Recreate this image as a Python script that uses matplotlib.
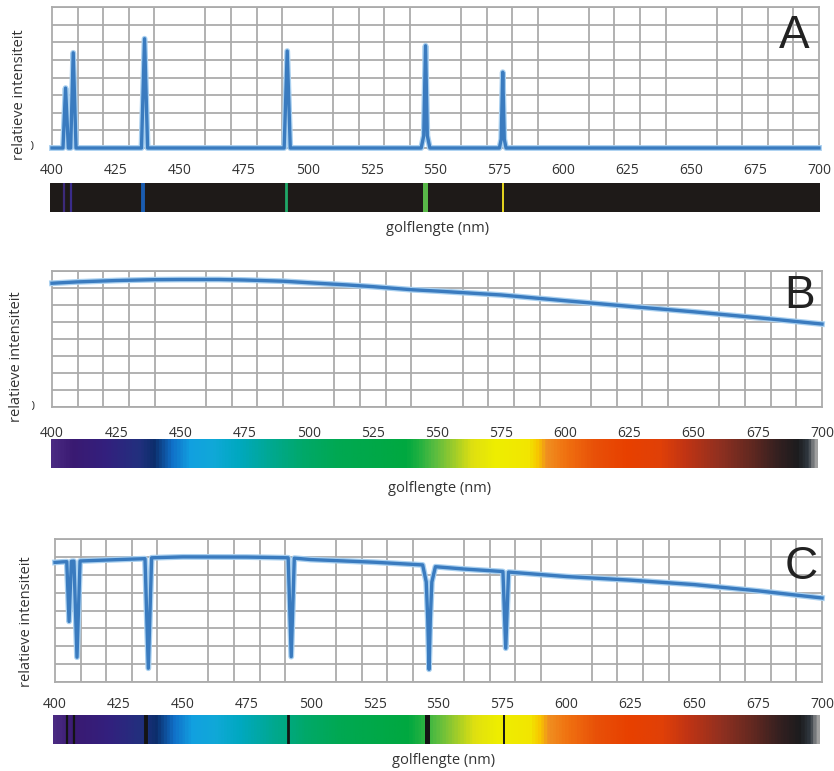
import numpy as np
import matplotlib
matplotlib.use("Agg")
from matplotlib import pyplot as plt
from matplotlib.colors import LinearSegmentedColormap
from matplotlib.transforms import Bbox

# ---- data (wavelength in nm, intensity in grid units 0..8) ----

# A: mercury emission spectrum
a_wl = [400, 404.3, 405.3, 406.4, 407.3, 408.3, 409.4, 435.0, 436.2, 437.4,
        490.8, 492.0, 493.2, 544.4, 545.4, 546.1, 546.8, 547.8,
        575.0, 575.7, 576.3, 576.9, 577.6, 700]
a_int = [0, 0, 3.4, 0, 0, 5.4, 0, 0, 6.2, 0,
         0, 5.5, 0, 0, 0.7, 5.8, 0.7, 0,
         0, 0.5, 4.3, 0.5, 0, 0]

# B: continuous spectrum
b_wl = [400, 410, 425, 440, 450, 465, 475, 490, 500, 515, 525, 540,
        550, 575, 600, 625, 650, 675, 700]
b_int = [7.28, 7.36, 7.44, 7.49, 7.5, 7.5, 7.47, 7.4, 7.31, 7.18, 7.08, 6.9,
         6.82, 6.59, 6.25, 5.92, 5.6, 5.25, 4.88]

# C: continuum with absorption lines
c_wl = [400, 403, 404.6, 405.5, 406.4, 407.4, 408.6, 409.8, 425, 435.2, 436.5, 437.8,
        450, 475, 491.2, 492.4, 493.6, 500, 525, 543.8, 545.2, 545.8, 546.3, 546.8,
        547.4, 548.8, 560, 575.2, 576.3, 577.4, 600, 625, 650, 675, 700]
c_int = [6.69, 6.72, 6.73, 3.39, 6.75, 6.76, 1.39, 6.77, 6.85, 6.9, 0.77, 6.95,
         7.0, 6.99, 6.95, 1.42, 6.93, 6.85, 6.7, 6.55, 5.6, 3.5, 0.71, 3.5,
         5.6, 6.45, 6.32, 6.18, 1.89, 6.15, 5.9, 5.7, 5.45, 5.1, 4.7]

# spectral lines shown in the colour bars
line_wl = [405.3, 408.3, 436.2, 492.0, 546.1, 576.3]
emission_colors = ["#3c2a7a", "#3a2c8a", "#1a5cb0", "#20a868", "#58b848", "#e8d820"]
line_widths = [1.6, 1.6, 2.8, 2.0, 3.6, 1.4]

x_ticks = list(range(400, 701, 25))

# colour stops of the visible spectrum strip
spec_wl = [400, 408, 421, 434, 440, 447, 454, 463, 473, 486, 499, 512, 539, 544, 550,
           556, 565, 574, 587, 591, 594, 602, 613, 626, 639, 649, 662, 675, 685, 693,
           697, 700]
spec_col = ["#4a2a82", "#3a1a72", "#33207e", "#22307e", "#0c2e6c", "#1070c8", "#12a0e0",
            "#10a8d8", "#00a8c0", "#00a890", "#00a868", "#00a852", "#00a840", "#20b040",
            "#58bc40", "#90c830", "#e0e010", "#eeee00", "#f2e600", "#f8c400", "#f09020",
            "#f07010", "#e85008", "#e84000", "#e04008", "#c03414", "#903020", "#602820",
            "#342020", "#1c1c1e", "#303840", "#a0a0a0"]

W, H = 834, 771
GRID = "#ababab"
LINE = "#3a7bbf"
HALO = "#a9d0f0"
TXT = "#333333"

spec_cmap = LinearSegmentedColormap.from_list(
    "spectrum", [((w - 400) / 300, c) for w, c in zip(spec_wl, spec_col)])

fig = plt.figure(figsize=(W / 100, H / 100), dpi=100)


def add_px_axes(x0, y0, x1, y1):
    # axes from pixel box (top-left origin)
    return fig.add_axes([x0 / W, 1 - y1 / H, (x1 - x0) / W, (y1 - y0) / H])


def grid_axes(box, wl, inten, pad):
    ax = add_px_axes(*box)
    ax.set_xlim(400, 700)
    ax.set_ylim(0, 8)
    ax.set_xticks(x_ticks)
    ax.set_xticks(np.arange(400, 701, 10), minor=True)
    ax.set_yticks([])
    ax.set_yticks(np.arange(0, 9, 1), minor=True)
    ax.grid(which="minor", color=GRID, lw=1.3)
    ax.tick_params(which="both", length=0)
    ax.tick_params(axis="x", pad=pad, labelsize=10, labelcolor=TXT)
    for lab in ax.get_xticklabels():
        lab.set_family("Open Sans")
    for sp in ax.spines.values():
        sp.set_color(GRID)
        sp.set_linewidth(1.3)
    ax.plot(wl, inten, color=HALO, lw=4.2, clip_on=False, solid_joinstyle="round", zorder=3)
    ax.plot(wl, inten, color=LINE, lw=2.4, clip_on=False, solid_joinstyle="round", zorder=4)
    return ax


def bar_axes(box):
    ax = add_px_axes(*box)
    ax.set_xlim(400, 700)
    ax.set_ylim(0, 1)
    ax.set_axis_off()
    return ax


def side_texts(ylab_xy, xlab_xy, letter, letter_xy, zero_xy=None):
    fig.text(ylab_xy[0] / W, 1 - ylab_xy[1] / H, "relatieve intensiteit", rotation=90,
             ha="center", va="center", fontsize=10.5, color=TXT, family="Open Sans")
    fig.text(xlab_xy[0] / W, 1 - xlab_xy[1] / H, "golflengte (nm)",
             ha="center", va="center", fontsize=10.5, color=TXT, family="Open Sans")
    fig.text(letter_xy[0] / W, 1 - letter_xy[1] / H, letter, ha="center", va="center",
             fontsize=33, color="#222222", family="Liberation Sans")
    if zero_xy is not None:
        # the "0" is half hidden behind the axis label in the original
        t = fig.text(zero_xy[0] / W, 1 - zero_xy[1] / H, "0", ha="center", va="center",
                     fontsize=9, color=TXT, family="Open Sans")
        t.set_clip_box(Bbox([[zero_xy[0] + 1, 0], [W, H]]))


strip = np.linspace(400, 700, 900)[None, :]

# ---- panel A ----
grid_axes((52, 7, 819, 148), a_wl, a_int, pad=11)
axb = bar_axes((50, 183, 820, 212))
axb.axvspan(400, 700, color="#1e1a18")
for w, c, lw in zip(line_wl, emission_colors, line_widths):
    axb.axvline(w, color=c, lw=lw)
side_texts((20, 95), (438, 228), "A", (794, 36), zero_xy=(30, 147))

# ---- panel B ----
grid_axes((52, 271, 822, 407), b_wl, b_int, pad=14)
axb = bar_axes((51, 439, 818, 468))
axb.imshow(strip, cmap=spec_cmap, vmin=400, vmax=700, extent=(400, 700, 0, 1), aspect="auto")
side_texts((17, 357), (440, 488), "B", (800, 296), zero_xy=(31, 407))

# ---- panel C ----
grid_axes((55, 539, 822, 682), c_wl, c_int, pad=11)
axb = bar_axes((53, 715, 820, 744))
axb.imshow(strip, cmap=spec_cmap, vmin=400, vmax=700, extent=(400, 700, 0, 1), aspect="auto")
for w, lw in zip(line_wl, line_widths):
    axb.axvline(w, color="#141414", lw=lw)
side_texts((27, 622), (444, 760), "C", (801, 567))

fig.savefig("out.png", dpi=100)
